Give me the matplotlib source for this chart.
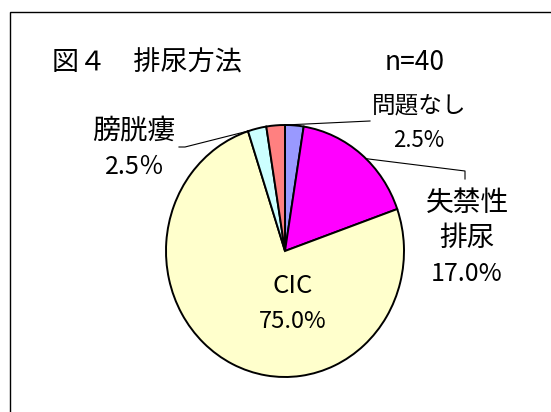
import numpy as np
import matplotlib
matplotlib.use("Agg")
import matplotlib.pyplot as plt
from matplotlib.patches import Rectangle

plt.rcParams['font.family'] = ['Noto Sans CJK JP', 'DejaVu Sans']

# データ (時計回り, 12時の位置から)
categories = ['問題なし', '失禁性排尿', 'CIC', '膀胱瘻', 'その他']
values = [2.5, 17.0, 75.0, 2.5, 2.5]
colors = ['#9999FF', '#FF00FF', '#FFFFCC', '#CCFFFF', '#FF8080']

W, H = 551, 412
fig = plt.figure(figsize=(W / 100, H / 100), dpi=100)

# 円の中心と半径 (ピクセル)
cx, cy, rx, ry = 285, 251, 119, 126
ax = fig.add_axes([(cx - rx) / W, 1 - (cy + ry) / H, 2 * rx / W, 2 * ry / H])

wedges, _ = ax.pie(values, colors=colors, startangle=90, counterclock=False,
                   wedgeprops=dict(edgecolor='black', linewidth=1.4))
ax.set_aspect('auto')
ax.set_xlim(-1, 1)
ax.set_ylim(-1, 1)


def to_data(px, py):
    return (px - cx) / rx, (cy - py) / ry


def edge_point(w, frac):
    # 扇形の外周上の点 (frac: 0=theta1, 1=theta2)
    t = np.deg2rad(w.theta1 + (w.theta2 - w.theta1) * frac)
    return np.cos(t), np.sin(t)


def label(x, y, s, size):
    fig.text(x / W, 1 - y / H, s, fontsize=size, va='center', ha='center')


# 枠線
fig.patches.append(Rectangle((10 / W, -0.1), 1.2, 1.1 - 12 / H, transform=fig.transFigure,
                             fill=False, edgecolor='black', linewidth=1.0))

fig.text(52 / W, 1 - 63 / H, '図４　排尿方法', fontsize=19.5, va='center', ha='left')
label(415, 63, 'n=40', 19)

lw = 0.8
# 問題なし
x0, y0 = edge_point(wedges[0], 1.0)
p1 = to_data(370, 121)
ax.plot([x0, p1[0]], [y0, p1[1]], color='black', lw=lw, clip_on=False)
label(419, 106, '問題なし', 17)
label(419, 140, '2.5%', 16)

# 失禁性排尿
x0, y0 = edge_point(wedges[1], 0.45)
p1 = to_data(465, 171)
p2 = to_data(465, 179)
ax.plot([x0, p1[0], p2[0]], [y0, p1[1], p2[1]], color='black', lw=lw, clip_on=False)
label(467, 203, '失禁性', 20)
label(467, 238, '排尿', 20)
label(467, 274, '17.0%', 18)

# 膀胱瘻
x0, y0 = edge_point(wedges[3], 0.9)
p1 = to_data(185, 147)
p2 = to_data(179, 147)
ax.plot([x0, p1[0], p2[0]], [y0, p1[1], p2[1]], color='black', lw=lw, clip_on=False)
label(134, 130, '膀胱瘻', 20)
label(135, 167, '2.5％', 18)

# CIC
label(293, 286, 'CIC', 18.5)
label(293, 322, '75.0%', 17)

fig.savefig('out.png', dpi=100)
